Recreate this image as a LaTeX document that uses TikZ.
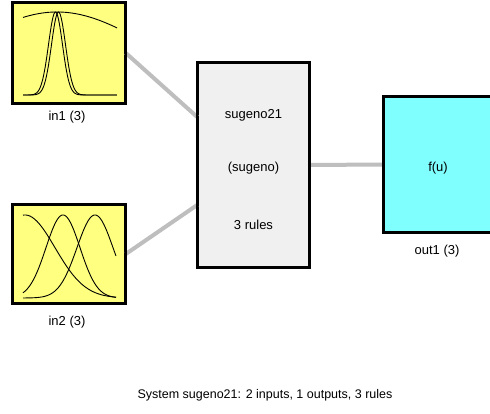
\documentclass[tikz,border=0pt]{standalone}
\usepackage{fontspec}
\setmainfont{Liberation Sans}
\definecolor{mfyellow}{HTML}{FFFF80}
\definecolor{outcyan}{HTML}{80FFFF}
\definecolor{sysgray}{HTML}{F0F0F0}
\definecolor{linkgray}{HTML}{BEBEBE}
\tikzset{
  blockbox/.style={draw=black, line width=1.6pt, inner sep=0pt},
  link/.style={draw=linkgray, line width=4pt},
  lbl/.style={font=\fontsize{13}{15}\selectfont, text=black, inner sep=0pt},
  caplbl/.style={font=\fontsize{12.5}{15}\selectfont, text=black, inner sep=0pt},
  mfcurve/.style={draw=black, line width=0.9pt, samples=120, smooth}
}
\begin{document}
\begin{tikzpicture}[x=1pt,y=-1pt]
\useasboundingbox (0,0) rectangle (490,414);
\fill[white] (0,0) rectangle (490,414);
% blocks
\node[blockbox, fill=mfyellow, minimum width=112pt, minimum height=100pt] (in1) at (69,53) {};
\node[blockbox, fill=mfyellow, minimum width=112pt, minimum height=98pt] (in2) at (69,254) {};
\node[blockbox, fill=sysgray, minimum width=111pt, minimum height=204pt] (sys) at (253.5,165) {};
\node[blockbox, fill=outcyan, minimum width=108pt, minimum height=135pt] (out) at (438,164.5) {};
\coordinate (sysin1) at (sys.west |- 0,117);
\coordinate (sysin2) at (sys.west |- 0,205);
% connectors
\draw[link] (in1.east) -- (sysin1);
\draw[link] (in2.east) -- (sysin2);
\draw[link] (sys.east) -- (out.west);
% redraw box borders over link ends
\draw[blockbox] (in1.north west) rectangle (in1.south east);
\draw[blockbox] (in2.north west) rectangle (in2.south east);
\draw[blockbox] (sys.north west) rectangle (sys.south east);
\draw[blockbox] (out.north west) rectangle (out.south east);
% in1 membership functions
\draw[mfcurve] plot[domain=23:117] (\x, {95-83*exp(-0.5*((\x-57)/92)^2)});
\draw[mfcurve] plot[domain=23:117] (\x, {95-83*exp(-0.5*((\x-55.5)/7)^2)});
\draw[mfcurve] plot[domain=23:117] (\x, {95-83*exp(-0.5*((\x-58.5)/7)^2)});
% in2 membership functions
\draw[mfcurve] plot[domain=23:116] (\x, {298-83*exp(-0.5*((\x-25)/30)^2)});
\draw[mfcurve] plot[domain=23:116] (\x, {298-83*exp(-0.5*((\x-63)/17)^2)});
\draw[mfcurve] plot[domain=23:116] (\x, {298-83*exp(-0.5*((\x-95)/18)^2)});
% labels
\node[lbl] (l1) at (67,117) {in1 (3)};
\node[lbl] (l2) at (67,322) {in2 (3)};
\node[lbl] (l3) at (437,251) {out1 (3)};
\node[lbl] (s1) at (253.5,115) {sugeno21};
\node[lbl] (s2) at (253.5,168) {(sugeno)};
\node[lbl] (s3) at (253.5,225) {3 rules};
\node[lbl] (fu) at (438,168) {f(u)};
\node[caplbl] (cap) at (265,395) {System sugeno21: 2 inputs, 1 outputs, 3 rules};
\end{tikzpicture}
\end{document}
